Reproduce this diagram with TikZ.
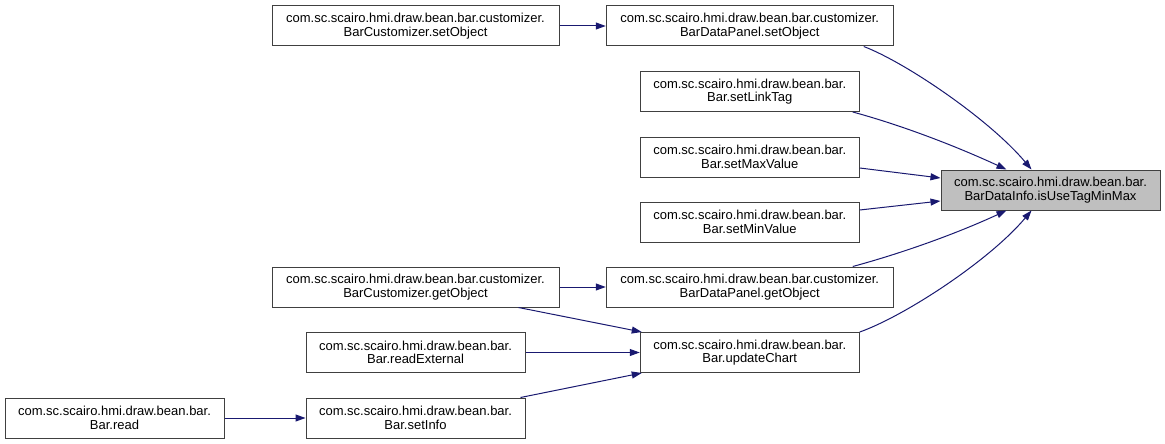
\documentclass[tikz,border=0pt]{standalone}
\usepackage{fontspec}
\setmainfont{Liberation Sans}
\usetikzlibrary{arrows.meta}
\definecolor{edgeblue}{HTML}{191970}
\definecolor{boxline}{HTML}{404040}
\definecolor{hilite}{HTML}{BFBFBF}
\begin{document}
\begin{tikzpicture}[x=1pt,y=-1pt,
  box/.style={draw=boxline,line width=1pt,fill=white,align=center,inner sep=0pt,
    minimum height=40pt,font=\fontsize{13}{13.5}\selectfont},
  wbox/.style={box,minimum width=287pt},
  nbox/.style={box,minimum width=219pt},
  edge/.style={draw=edgeblue,line width=1pt,-{Triangle[length=10pt,width=7pt]}}]
\useasboundingbox (0,0) rectangle (1165,444);
\node[wbox] (A) at (415.5,26) {com.sc.scairo.hmi.draw.bean.bar.customizer.\\BarCustomizer.setObject};
\node[wbox] (B) at (749.75,26) {com.sc.scairo.hmi.draw.bean.bar.customizer.\\BarDataPanel.setObject};
\node[nbox] (L) at (749.75,91.5) {com.sc.scairo.hmi.draw.bean.bar.\\Bar.setLinkTag};
\node[nbox] (Mx) at (749.75,157) {com.sc.scairo.hmi.draw.bean.bar.\\Bar.setMaxValue};
\node[nbox] (Mn) at (749.75,222) {com.sc.scairo.hmi.draw.bean.bar.\\Bar.setMinValue};
\node[wbox] (P) at (749.75,287) {com.sc.scairo.hmi.draw.bean.bar.customizer.\\BarDataPanel.getObject};
\node[nbox] (U) at (749.75,352.5) {com.sc.scairo.hmi.draw.bean.bar.\\Bar.updateChart};
\node[wbox] (C) at (415.5,287) {com.sc.scairo.hmi.draw.bean.bar.customizer.\\BarCustomizer.getObject};
\node[nbox] (R) at (415.5,352.5) {com.sc.scairo.hmi.draw.bean.bar.\\Bar.readExternal};
\node[nbox] (S) at (415.5,418) {com.sc.scairo.hmi.draw.bean.bar.\\Bar.setInfo};
\node[nbox] (Rd) at (114.5,418) {com.sc.scairo.hmi.draw.bean.bar.\\Bar.read};
\node[nbox,fill=hilite] (T) at (1050.5,190) {com.sc.scairo.hmi.draw.bean.bar.\\BarDataInfo.isUseTagMinMax};
% edges
\draw[edge] (A) -- (B);
\draw[edge] (C) -- (P);
\draw[edge] (R) -- (U);
\draw[edge] (Rd) -- (S);
\draw[edge] ([xshift=-41pt]C.south east) -- ([xshift=2pt]U.north west);
\draw[edge] ([xshift=-5pt]S.north east) -- ([xshift=2pt]U.south west);
\draw[edge] ([xshift=-30pt]B.south east) .. controls +(42,16) and +(-42,-50) .. ([xshift=91pt]T.north west);
\draw[edge] ([xshift=-7pt]L.south east) .. controls +(48,13) and +(-52,-24) .. ([xshift=66pt]T.north west);
\draw[edge] ([yshift=-11pt]Mx.east) -- ([yshift=12pt]T.west);
\draw[edge] ([yshift=12pt]Mn.east) -- ([yshift=-11pt]T.west);
\draw[edge] ([xshift=-41pt]P.north east) .. controls +(48,-13) and +(-52,24) .. ([xshift=66pt]T.south west);
\draw[edge] (U.north east) .. controls +(45,-16) and +(-42,50) .. ([xshift=91pt]T.south west);
\end{tikzpicture}
\end{document}
